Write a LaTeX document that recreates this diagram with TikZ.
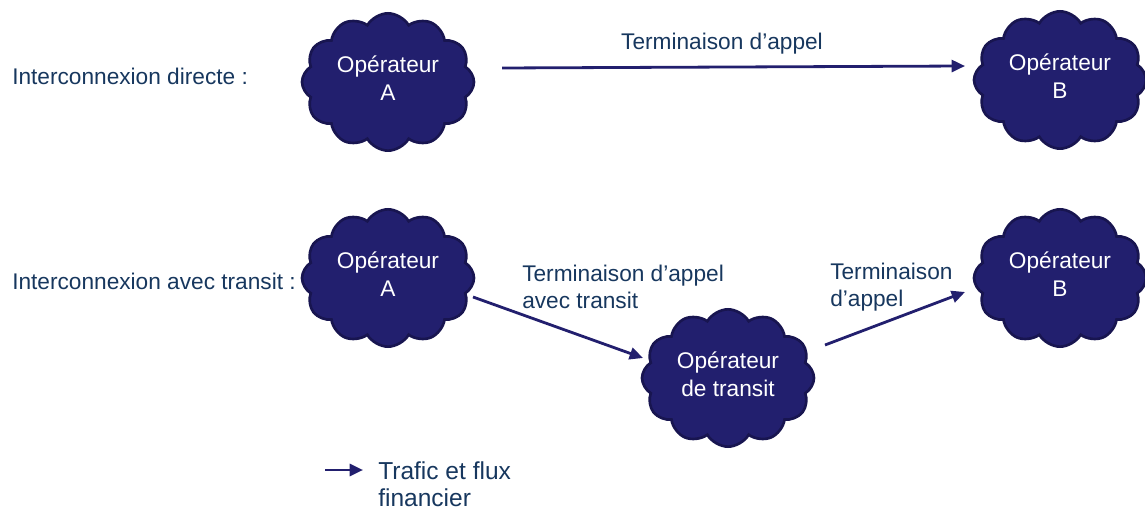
\documentclass[tikz,border=0pt]{standalone}
\usepackage{fontspec}
\setmainfont{Liberation Sans}
\usetikzlibrary{shapes.symbols,arrows.meta,calc}
\definecolor{cloudfill}{RGB}{34,31,110}
\definecolor{cloudedge}{RGB}{24,21,80}
\definecolor{txtblue}{RGB}{23,55,94}
\definecolor{arrowblue}{RGB}{34,31,110}
\newcommand{\lowdepth}{\rule[-6pt]{0pt}{6pt}}
\tikzset{
  opcloud/.style={cloud, cloud puffs=12, cloud puff arc=120, cloud ignores aspect,
    minimum width=129pt, minimum height=103pt, inner sep=0pt,
    fill=cloudfill, draw=cloudedge, line width=2pt,
    text=white, align=center, font=\fontsize{17}{21}\selectfont},
  lbl/.style={text=txtblue, inner sep=0pt, align=left, font=\fontsize{17}{20}\selectfont},
  flow/.style={draw=arrowblue, line width=2.1pt, -{Triangle[length=10pt,width=9pt]}}
}
\begin{document}
\begin{tikzpicture}[x=0.75pt,y=-0.75pt]
\useasboundingbox (0,0) rectangle (1145,509);
% left labels
\node[lbl, anchor=west] (l1) at (12,76) {Interconnexion directe :};
\node[lbl, anchor=west] (l2) at (12,281) {Interconnexion avec transit :};
% clouds
\node[opcloud] (A1) at (388,82) {Opérateur\\A\lowdepth};
\node[opcloud] (B1) at (1060,80) {Opérateur\\B\lowdepth};
\node[opcloud] (A2) at (388,278) {Opérateur\\A\lowdepth};
\node[opcloud] (B2) at (1060,278) {Opérateur\\B\lowdepth};
\node[opcloud] (T) at (728,378) {Opérateur\\de transit\lowdepth};
% connectors
\draw[flow] ($(A1.center)+(114,-14)$) -- ($(B1.center)+(-95,-14)$);
\draw[flow] ($(A2.center)+(85,19)$) -- ($(T.center)+(-85,-20)$);
\draw[flow] ($(T.center)+(97,-33)$) -- ($(B2.center)+(-95,14)$);
% connector labels
\node[lbl] (t1) at (722,44) {Terminaison d’appel};
\node[lbl, anchor=west] (t2) at (522,287) {Terminaison d’appel\\avec transit};
\node[lbl, anchor=west] (t3) at (830,287) {Terminaison\\d’appel};
% legend
\coordinate (g1) at (325,470);
\coordinate (g2) at (363,470);
\draw[flow] (g1) -- (g2);
\node[lbl, anchor=west, font=\fontsize{18.4}{20}\selectfont] (g3) at (378,484) {Trafic et flux\\financier};
\end{tikzpicture}
\end{document}
